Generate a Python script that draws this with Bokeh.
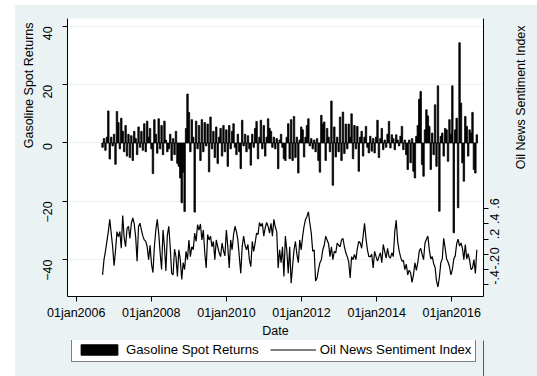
import math
import pandas as pd
from bokeh.plotting import figure
from bokeh.layouts import column, row
from bokeh.models import Range1d, LinearAxis, FixedTicker, Legend, LegendItem, Label, Title
from bokeh.embed import file_html
from bokeh.resources import INLINE

# Bi-weekly gasoline spot returns (left axis)
returns = [
    -1.5, 1.5, -2.5, 2, 11, -5.5, 2, -1, 3, -7.3,
    10.8, 7, -2, 8.5, 4, -3, 6, -4.5, 3, -5,
    2.5, -6, 4, 1.5, -4, 5.5, -1.5, 4, -2.5, 6.6,
    -3, 7.5, 2, 5, -2, -10.5, 8, 3, -3.5, 8.3,
    -2, 6, -4, 7.5, 1, -3, -2, 3, -6, 1.5,
    -4, 4, -7, -8, -12, -20.5, -10, -23.5, 5, 16.8,
    10.5, -3, 8, 2, -23.7, 7.5, -2, 6, -6, 8,
    -3, 7, -1, 6.5, -9.9, 8.9, -2, 4, -5, 5.5,
    -7, 2, 5, -4.5, 6, -3, 4.5, -8, 6, -2,
    4, 6.6, -1.5, -4, 3, -3, -8.8, 7.8, -1, 3,
    -3, 2.5, -2, -7.6, 3, -1.5, 5, 7.4, -5.4, 2,
    7.8, -2, 6, -4.5, 2, 8.3, 5, 4, -1.5, 2,
    -2, 1.5, -8.8, 1, 3, -1.5, -5.4, -6, 2, 6.6,
    -5.4, 8, -6, 9.1, -5, 2, -10.3, 1, 5.5, 4.5,
    -4.8, 2, 6, 8.3, -1, 1.5, -2, 1, -3, 1.5,
    -6, -10, 9.5, 6.5, 7.2, -6, 5, 2, -3, 14.4,
    -14.5, 5.5, -4.8, 2, -3, 8.9, -6, 10.6, -3.6, 6.5,
    -2, 6.5, 2, 10, -5.4, 6, -2, 5.7, -9.7, 2,
    4, -4.5, 2, 5.7, -1.5, -3.4, 2.3, -2.8, 1.5, -3.4,
    2, 7.8, -5, 1.5, 5, -2.3, 1, -1.5, 3, 7.4,
    -1.7, 2.8, 1.5, -2.3, 2.8, 1, -1, 2.3, 5.7, -2.3,
    1, -4, -9.1, 1, -6.8, 1.5, -9.7, -12, 2.3, 6,
    15, 17.7, -7.4, -11.4, 4.5, 11.4, 9.3, 5.7, -9.1, 3.4,
    -4, 13.1, -8, 19.6, -23.4, 2.3, 3.4, -4.5, 5, 4.5,
    -6.3, 8, 3, 19.6, -30.8, 4.5, 8.5, -22.2, 34.4, 13.7,
    -6.8, -13.1, 9.1, 5.7, -4.5, 4.5, 3.4, 10.5, -9.1, -10.3, 2.8,
]

# Oil news sentiment index (right axis)
sentiment = [
    -0.27, -0.07, 0.04, 0.17, 0.30, 0.46, 0.28, 0.10, -0.15, 0.05,
    0.30, 0.23, 0.30, 0.08, 0.51, 0.22, 0.10, 0.34, 0.37, 0.21,
    0.41, 0.48, 0.40, 0.23, -0.09, 0.37, 0.41, 0.32, 0.24, 0.19,
    0.17, 0.10, -0.07, 0.12, -0.13, -0.24, 0.10, 0.32, 0.46, 0.28,
    0.02, -0.20, 0.32, 0.10, -0.22, 0.25, 0.37, 0.10, -0.25, -0.27,
    0.07, -0.03, -0.29, 0.06, -0.07, -0.33, -0.11, -0.20, 0.04, -0.07,
    0.19, -0.03, 0.10, 0.06, 0.28, 0.17, 0.39, 0.32, 0.40, 0.19,
    0.32, 0.02, -0.18, 0.26, 0.19, 0.24, 0.10, 0.17, -0.07, 0.19,
    0.10, 0.02, -0.03, 0.15, 0.05, -0.02, 0.32, 0.10, -0.18, 0.19,
    0.06, 0.26, 0.37, 0.30, 0.19, -0.03, -0.25, 0.10, 0.24, 0.12,
    0.06, 0.13, -0.07, -0.16, 0.17, 0.04, 0.15, 0.28, 0.26, 0.42,
    0.37, 0.41, 0.24, 0.35, 0.42, 0.37, 0.28, 0.41, 0.24, 0.46,
    0.36, 0.30, -0.18, 0.06, -0.11, 0.10, -0.29, 0.24, 0.05, -0.25,
    0.10, -0.38, -0.16, 0.06, 0.17, 0.0, -0.11, 0.19, 0.06, 0.24,
    0.37, 0.46, 0.50, 0.56, 0.41, 0.28, 0.04, 0.06, -0.35, -0.31,
    -0.20, -0.11, -0.07, 0.06, 0.12, 0.24, 0.19, 0.14, -0.03, 0.10,
    -0.07, 0.04, 0.02, 0.15, 0.12, 0.10, 0.19, 0.21, 0.10, 0.02,
    -0.03, -0.10, -0.31, -0.03, -0.07, 0.0, -0.07, 0.08, 0.17, 0.15,
    0.08, 0.24, 0.41, 0.21, 0.06, -0.03, -0.03, 0.0, -0.18, 0.04,
    -0.03, -0.09, -0.03, 0.02, -0.11, 0.13, 0.04, -0.05, 0.08, -0.03,
    -0.05, 0.02, -0.03, 0.30, 0.45, 0.17, 0.05, -0.03, -0.09, -0.08,
    -0.20, -0.13, -0.27, -0.21, -0.24, -0.37, -0.27, -0.11, -0.21, -0.11,
    0.04, 0.08, 0.0, -0.07, 0.15, 0.20, 0.24, 0.06, -0.06, -0.03,
    -0.12, -0.17, -0.35, -0.43, -0.30, -0.11, -0.06, 0.21, 0.08, -0.06,
    -0.10, -0.16, -0.27, -0.20, -0.06, -0.02, 0.14, 0.20, 0.11, 0.15,
    0.08, -0.07, 0.13, -0.06, 0.01, -0.08, -0.20, -0.18, -0.07, -0.25, 0.06,
]

first_date = "2006-09-14"
step_days = 14

x_tick_dates = ["2006-01-01", "2008-01-01", "2010-01-01", "2012-01-01", "2014-01-01", "2016-01-01"]
x_tick_labels = ["01jan2006", "01jan2008", "01jan2010", "01jan2012", "01jan2014", "01jan2016"]
left_ticks = [-40, -20, 0, 20, 40]
right_ticks = [-0.4, -0.2, 0.0, 0.2, 0.4, 0.6]
right_tick_labels = ["-.4", "-.2", "0", ".2", ".4", ".6"]


def to_ms(ts):
    return int(pd.Timestamp(ts).value // 10**6)


dates = pd.date_range(first_date, periods=len(returns), freq=f"{step_days}D")
x_ms = [to_ms(d) for d in dates]
tick_ms = [to_ms(d) for d in x_tick_dates]
bar_width = step_days * 24 * 3600 * 1000

FONT = "Liberation Sans"
BG = "#eaf2f3"
FS = "12.5px"

# ---- main chart -------------------------------------------------------
p = figure(
    width=496, height=335,
    output_backend="svg", toolbar_location=None,
    x_range=Range1d(to_ms("2005-10-08"), to_ms("2016-11-05")),
    y_range=Range1d(-52.65, 42.7),
    min_border_left=52, min_border_right=28, min_border_top=13, min_border_bottom=43,
    background_fill_color="white", border_fill_color=BG, outline_line_color=None,
)
p.extra_y_ranges = {"sent": Range1d(-0.555, 3.106)}

right_axis = LinearAxis(
    y_range_name="sent",
    ticker=FixedTicker(ticks=right_ticks),
    major_label_overrides={t: s for t, s in zip(right_ticks, right_tick_labels)},
)
p.add_layout(right_axis, "right")

xa = p.xaxis[0]
xa.ticker = FixedTicker(ticks=tick_ms)
xa.major_label_overrides = {t: s for t, s in zip(tick_ms, x_tick_labels)}
xa.axis_label = "Date"
xa.axis_label_standoff = 1
xa.major_label_standoff = 4

ya = p.yaxis[0]
ya.ticker = FixedTicker(ticks=left_ticks)
ya.major_label_orientation = math.pi / 2
ya.major_label_standoff = 15

right_axis.major_label_orientation = math.pi / 2
right_axis.major_label_standoff = 6

for ax in (xa, ya, right_axis):
    ax.axis_line_color = "black"
    ax.axis_line_width = 1
    ax.major_tick_line_color = "black"
    ax.major_tick_out = 5
    ax.major_tick_in = 0
    ax.minor_tick_line_color = None
    ax.major_label_text_font = FONT
    ax.major_label_text_font_size = FS
    ax.major_label_text_color = "black"
    ax.axis_label_text_font = FONT
    ax.axis_label_text_font_size = FS
    ax.axis_label_text_font_style = "normal"
    ax.axis_label_text_color = "black"

p.xgrid.visible = False
p.ygrid[0].ticker = FixedTicker(ticks=left_ticks)
p.ygrid[0].grid_line_color = BG
p.ygrid[0].grid_line_width = 1

p.vbar(x=x_ms, top=returns, bottom=0, width=bar_width,
       fill_color="black", line_color="black", line_width=0.8)
p.line(x=x_ms, y=sentiment, y_range_name="sent",
       line_color="black", line_width=1.2)

# left axis title, set toward the upper end of the axis
p.add_layout(Title(text="Gasoline Spot Returns", align="right", offset=4,
                   vertical_align="bottom", standoff=0,
                   text_font=FONT, text_font_size=FS, text_font_style="normal",
                   text_color="black"), "left")

# ---- right-hand title strip ---------------------------------------------
strip = figure(
    width=26, height=335, output_backend="svg", toolbar_location=None,
    x_range=Range1d(0, 26), y_range=Range1d(0, 335),
    x_axis_type=None, y_axis_type=None, min_border=0,
    background_fill_color=BG, border_fill_color=BG, outline_line_color=None,
)
strip.add_layout(Label(x=9, y=240, text="Oil News Sentiment Index", angle=math.pi / 2,
                       text_align="center", text_baseline="middle",
                       text_font=FONT, text_font_size=FS, text_color="black"))

# ---- key strip under the chart -------------------------------------------
key = figure(
    width=522, height=36, output_backend="svg", toolbar_location=None,
    x_range=Range1d(0, 1), y_range=Range1d(0, 1),
    x_axis_type=None, y_axis_type=None,
    min_border_left=52, min_border_right=54, min_border_top=0, min_border_bottom=0,
    background_fill_color=BG, border_fill_color=BG, outline_line_color=None,
)
# swatch renderers sit outside the key's visible range; only their styling shows
key_bar = key.vbar(x=[5], top=[1], width=1, fill_color="black", line_color="black")
key_line = key.line(x=[5, 6], y=[0, 0], line_color="black", line_width=1.2)

legend = Legend(
    items=[LegendItem(label="Gasoline Spot Returns", renderers=[key_bar]),
           LegendItem(label="Oil News Sentiment Index", renderers=[key_line])],
    orientation="horizontal", location=(4, 14),
    border_line_color="black", border_line_width=1,
    background_fill_color="white", background_fill_alpha=1,
    label_text_font=FONT, label_text_font_size="13.2px", label_text_color="black",
    glyph_width=46, glyph_height=13, label_height=14, label_standoff=4, spacing=11,
    padding=4, margin=0,
)
key.add_layout(legend)

top_row = row(p, strip, spacing=0, styles={"background-color": BG})
layout = column(top_row, key, spacing=0, margin=(5, 0, 0, 15),
                styles={"background-color": BG})

open("out.html", "w").write(file_html(layout, INLINE))
